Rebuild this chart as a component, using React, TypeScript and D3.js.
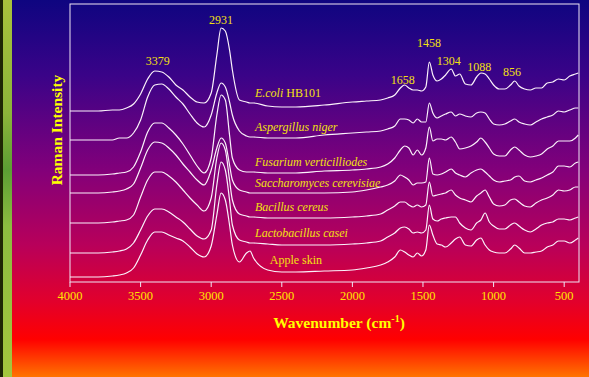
import React from "react";
import * as d3 from "d3";

// shared wavenumber grid (cm-1), high to low
const wavenumbers = [
  4000, 3800, 3700, 3650, 3600, 3550, 3500, 3450, 3400, 3350, 3300, 3250, 3200, 3150, 3100,
  3050, 3000, 2960, 2930, 2900, 2870, 2850, 2800, 2750, 2725, 2700, 2600, 2500, 2400, 2200,
  2000, 1900, 1800, 1750, 1700, 1660, 1630, 1600, 1570, 1540, 1510, 1480, 1455, 1430, 1400,
  1370, 1340, 1300, 1270, 1240, 1200, 1160, 1120, 1090, 1060, 1030, 1000, 960, 920, 880,
  850, 820, 780, 740, 700, 660, 620, 580, 540, 500, 460, 420, 400,
];

// stacked intensities (offset already applied)
const ecoli = [
  171, 171, 172, 172, 174, 178, 188, 203, 211, 210, 205, 197, 192, 185, 180,
  179, 189, 227, 254, 251, 232, 212, 182, 180, 179, 179, 176, 175, 175, 177,
  180, 181, 182, 184, 187, 194, 197, 194, 192, 192, 191, 195, 220, 207, 201,
  203, 207, 213, 206, 208, 198, 197, 205, 209, 208, 203, 197, 193, 193, 197,
  201, 196, 193, 192, 194, 194, 199, 200, 203, 202, 206, 208, 209,
];
const aspergillus = [
  142, 142, 142, 144, 144, 149, 162, 185, 197, 198, 193, 185, 178, 168, 159,
  155, 167, 189, 199, 195, 180, 167, 151, 146, 145, 145, 144, 144, 144, 147,
  149, 150, 151, 153, 156, 163, 163, 162, 159, 163, 160, 160, 179, 169, 164,
  166, 168, 170, 166, 168, 166, 165, 169, 170, 169, 163, 158, 157, 158, 161,
  163, 160, 158, 157, 160, 163, 165, 167, 171, 170, 172, 174, 174,
];
const fusarium = [
  107, 107, 108, 109, 110, 115, 130, 150, 159, 159, 154, 147, 138, 127, 116,
  109, 124, 167, 187, 182, 147, 124, 112, 110, 110, 110, 109, 109, 109, 111,
  112, 113, 115, 118, 124, 132, 136, 134, 127, 132, 127, 134, 155, 141, 143,
  143, 142, 145, 140, 133, 134, 136, 140, 144, 140, 134, 128, 126, 126, 132,
  135, 132, 127, 125, 126, 128, 133, 136, 141, 141, 141, 144, 147,
];
const saccharomyces = [
  89, 89, 90, 91, 93, 98, 114, 132, 140, 139, 134, 127, 118, 110, 102,
  97, 112, 134, 144, 139, 117, 102, 92, 90, 89, 89, 89, 89, 89, 89,
  90, 92, 95, 97, 101, 107, 105, 102, 97, 99, 99, 100, 124, 108, 107,
  108, 110, 113, 109, 107, 105, 109, 112, 113, 110, 106, 102, 100, 101, 102,
  105, 106, 101, 100, 102, 104, 107, 110, 116, 116, 115, 119, 120,
];
const bacillus = [
  59, 59, 60, 61, 62, 67, 85, 102, 110, 110, 106, 100, 92, 84, 77,
  71, 84, 124, 139, 132, 102, 82, 68, 66, 65, 65, 64, 64, 64, 64,
  65, 66, 68, 72, 76, 80, 80, 77, 75, 77, 75, 77, 100, 86, 87,
  88, 89, 92, 87, 84, 82, 80, 86, 89, 92, 85, 78, 76, 77, 82,
  83, 80, 76, 75, 79, 82, 84, 87, 92, 91, 92, 95, 95,
];
const lactobacillus = [
  29, 29, 30, 31, 33, 39, 52, 66, 73, 73, 70, 65, 60, 53, 46,
  43, 52, 97, 120, 112, 82, 57, 42, 40, 39, 39, 38, 37, 37, 37,
  38, 39, 41, 45, 49, 54, 55, 53, 49, 50, 49, 52, 77, 63, 61,
  63, 64, 65, 65, 59, 54, 52, 59, 62, 69, 60, 56, 53, 53, 57,
  59, 56, 52, 50, 53, 57, 59, 60, 63, 63, 62, 64, 65,
];
const appleSkin = [
  5, 5, 6, 7, 9, 14, 27, 42, 50, 50, 47, 44, 41, 35, 28,
  25, 36, 67, 89, 82, 57, 37, 20, 29, 31, 24, 12, 10, 10, 11,
  12, 14, 17, 20, 25, 32, 30, 27, 25, 29, 26, 32, 57, 47, 38,
  37, 35, 39, 43, 45, 37, 36, 42, 44, 37, 32, 30, 29, 29, 33,
  37, 34, 29, 29, 30, 31, 35, 37, 41, 41, 39, 42, 44,
];

// [italic part, roman part]
const seriesLabels: [string, string][] = [
  ["E.coli", " HB101"],
  ["Aspergillus niger", ""],
  ["Fusarium verticilliodes", ""],
  ["Saccharomyces cerevisiae", ""],
  ["Bacillus cereus", ""],
  ["Lactobacillus casei", ""],
  ["", "Apple skin"],
];
const peakLabels = [3379, 2931, 1658, 1458, 1304, 1088, 856];
const xTicks = [4000, 3500, 3000, 2500, 2000, 1500, 1000, 500];

const serif = "'Liberation Serif', 'Times New Roman', serif";

export default function App() {
  const width = 589;
  const height = 377;
  const series = [ecoli, aspergillus, fusarium, saccharomyces, bacillus, lactobacillus, appleSkin];

  const x = d3.scaleLinear().domain([4000, 395]).range([70, 579]);
  const y = d3.scaleLinear().domain([0, 278]).range([282, 4]);

  const line = d3
    .line<number>()
    .x((_, i) => x(wavenumbers[i]))
    .y((d) => y(d))
    .curve(d3.curveMonotoneX);

  // value of a series nearest to a wavenumber
  const at = (s: number[], wn: number) => {
    const i = d3.minIndex(wavenumbers, (w) => Math.abs(w - wn));
    return s[i];
  };
  const peakAround = (s: number[], wn: number) =>
    d3.max(wavenumbers.map((w, i) => (Math.abs(w - wn) <= 25 ? s[i] : -Infinity))) as number;

  const peakLift = [6, 4, 4, 15, 4, 2, 5];
  const peakShift = [0, 0, 2, 0, -2, -2, -2];

  return (
    <svg
      width={width}
      height={height}
      style={{ position: "absolute", left: 0, top: 0, fontFamily: serif }}
    >
      <defs>
        <linearGradient id="bg" x1="0" y1="0" x2="0" y2="1">
          <stop offset="0" stopColor="#0e0580" />
          <stop offset="0.2" stopColor="#3a0388" />
          <stop offset="0.45" stopColor="#82007a" />
          <stop offset="0.65" stopColor="#b8005a" />
          <stop offset="0.8" stopColor="#e2002c" />
          <stop offset="0.9" stopColor="#ff0000" />
          <stop offset="1" stopColor="#ff7400" />
        </linearGradient>
        <linearGradient id="strip" x1="0" y1="0" x2="0" y2="1">
          <stop offset="0" stopColor="#a8c23c" />
          <stop offset="0.3" stopColor="#8cb43a" />
          <stop offset="0.45" stopColor="#5c9e34" />
          <stop offset="0.6" stopColor="#8cbc40" />
          <stop offset="1" stopColor="#a4c63e" />
        </linearGradient>
      </defs>

      <rect x={0} y={0} width={width} height={height} fill="url(#bg)" />
      <rect x={0} y={0} width={3} height={height} fill="#1e2604" />
      <rect x={3} y={0} width={9} height={height} fill="url(#strip)" />

      {/* frame */}
      <rect
        x={x(4000)}
        y={y(278)}
        width={x(395) - x(4000)}
        height={y(0) - y(278)}
        fill="none"
        stroke="#efe6f4"
        strokeWidth={1}
      />
      {xTicks.map((t) => (
        <g key={t} transform={`translate(${x(t)},${y(0)})`}>
          <line y2={5} stroke="#efe6f4" strokeWidth={1} />
          <text y={18} textAnchor="middle" fontSize={12.5} fill="#ffe600">
            {t}
          </text>
        </g>
      ))}

      {/* spectra */}
      {series.map((s, k) => (
        <path key={k} d={line(s) as string} fill="none" stroke="#fbf2fb" strokeWidth={1.2} />
      ))}

      {/* series labels */}
      {seriesLabels.map(([it, rom], k) => {
        const wn = rom === "Apple skin" ? 2585 : 2690;
        return (
          <text
            key={k}
            x={x(wn)}
            y={y(at(series[k], wn)) - 6}
            fontSize={12}
            fill="#f4e010"
          >
            {it && <tspan fontStyle="italic">{it}</tspan>}
            {rom && <tspan>{rom}</tspan>}
          </text>
        );
      })}

      {/* peak annotations */}
      {peakLabels.map((p, k) => (
        <text
          key={p}
          x={x(p) + peakShift[k]}
          y={y(peakAround(ecoli, p)) - peakLift[k]}
          textAnchor="middle"
          fontSize={12}
          fill="#f4e010"
        >
          {p}
        </text>
      ))}

      {/* axis titles */}
      <text
        transform="translate(62,130) rotate(-90)"
        textAnchor="middle"
        fontSize={15.5}
        fontWeight="bold"
        fill="#ffff00"
      >
        Raman Intensity
      </text>
      <text x={339} y={328} textAnchor="middle" fontSize={15.5} fontWeight="bold" fill="#ffff00">
        Wavenumber (cm
        <tspan dy={-6} fontSize={10}>
          -1
        </tspan>
        <tspan dy={6}>)</tspan>
      </text>
    </svg>
  );
}
